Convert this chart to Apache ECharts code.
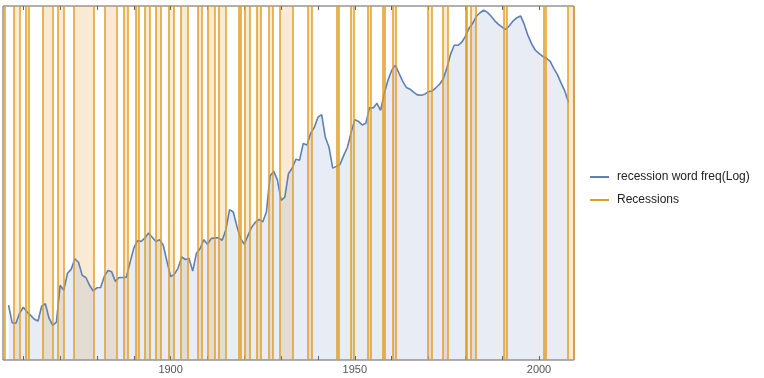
<!DOCTYPE html>
<html>
<head>
    <meta charset="utf-8">
    <title>recession word freq</title>
    <script src="https://cdn.jsdelivr.net/npm/echarts@6/dist/echarts.min.js"></script>
</head>
<body style="margin:0;background:#fff">
    <div id="main" style="width:764px;height:378px"></div>
    <script type="text/javascript">
        // word frequency (log, arbitrary units), one value per year from firstYear
        var firstYear = 1856;
        var freqLog = [
            15.5, 10.5, 10.4, 13.2, 14.9, 13.6, 12.6, 11.5, 11.0, 15.2,
            15.9, 11.8, 9.8, 10.7, 21.1, 19.7, 24.5, 25.6, 28.6, 27.6,
            23.9, 23.3, 21.1, 19.5, 20.4, 20.5, 23.6, 25.3, 24.9, 22.2,
            23.3, 23.3, 23.4, 27.6, 31.6, 33.7, 33.5, 34.4, 35.9, 34.7,
            33.5, 34.0, 32.4, 27.9, 23.6, 24.2, 25.9, 29.1, 28.4, 28.7,
            25.1, 30.1, 31.5, 34.0, 32.7, 34.3, 34.5, 34.5, 33.8, 36.8,
            42.5, 41.8, 37.8, 34.3, 32.7, 35.2, 37.5, 38.9, 39.7, 39.0,
            41.8, 52.0, 53.3, 50.8, 45.1, 46.0, 52.7, 54.2, 56.7, 56.4,
            61.2, 60.7, 64.0, 65.7, 68.6, 69.3, 62.9, 60.1, 54.2, 54.7,
            55.3, 57.8, 60.1, 64.3, 67.9, 67.4, 66.4, 66.9, 71.3, 71.2,
            72.5, 70.5, 75.3, 79.0, 81.8, 83.3, 81.0, 78.7, 77.0, 76.5,
            75.6, 74.9, 74.8, 75.1, 75.8, 76.0, 76.9, 77.9, 79.4, 82.5,
            86.4, 88.9, 88.9, 89.7, 91.4, 93.7, 95.1, 97.1, 98.1, 98.8,
            98.2, 97.1, 95.8, 94.8, 94.0, 93.4, 94.5, 95.8, 96.7, 97.2,
            94.8, 91.7, 89.3, 87.5, 86.6, 85.8, 85.2, 84.4, 82.4, 80.6,
            78.2, 76.0, 72.8
        ];
        // NBER business cycle peaks / troughs
        var recessionStart = ['1853-06', '1857-06', '1860-10', '1865-04', '1869-06', '1873-10', '1882-03',
            '1887-03', '1890-07', '1893-01', '1895-12', '1899-06', '1902-09', '1907-05', '1910-01',
            '1913-01', '1918-08', '1920-01', '1923-05', '1926-10', '1929-08', '1937-05', '1945-02',
            '1948-11', '1953-07', '1957-08', '1960-04', '1969-12', '1973-11', '1980-01', '1981-07',
            '1990-07', '2001-03', '2007-12'];
        var recessionEnd = ['1854-12', '1858-12', '1861-06', '1867-12', '1870-12', '1879-03', '1885-05',
            '1888-04', '1891-05', '1894-06', '1897-06', '1900-12', '1904-08', '1908-06', '1912-01',
            '1914-12', '1919-03', '1921-07', '1924-07', '1927-11', '1933-03', '1938-06', '1945-10',
            '1949-10', '1954-05', '1958-04', '1961-02', '1970-11', '1975-03', '1980-07', '1982-11',
            '1991-03', '2001-11', '2009-06'];
        var tickYears = [1860, 1870, 1880, 1890, 1900, 1910, 1920, 1930, 1940, 1950, 1960, 1970, 1980, 1990, 2000];
        var labelYears = [1900, 1950, 2000];

        var xMin = 1854.5, xMax = 2009.5;
        var blue = '#5e81b5', orange = '#e19c24';

        function toYear(s) {
            var p = s.split('-');
            return +p[0] + (p[1] - 1) / 12;
        }

        var lineData = [];
        for (var i = 0; i < freqLog.length; i++) {
            lineData.push([firstYear + i, freqLog[i]]);
        }
        var areas = [], edges = [];
        for (var j = 0; j < recessionStart.length; j++) {
            var a = toYear(recessionStart[j]), b = toYear(recessionEnd[j]);
            areas.push([{xAxis: Math.max(a, xMin)}, {xAxis: Math.min(b, xMax)}]);
            if (a >= xMin) edges.push({xAxis: a});
            if (b <= xMax) edges.push({xAxis: b});
        }

        var font = 'Liberation Sans, Arial, sans-serif';
        var myChart = echarts.init(document.getElementById('main'));
        myChart.setOption({
            animation: false,
            grid: {
                show: true, left: 3, right: 190, top: 6, bottom: 18,
                borderColor: '#606060', borderWidth: 1
            },
            legend: {
                orient: 'vertical', left: 585, top: 166,
                icon: 'rect',
                itemWidth: 19, itemHeight: 2, itemGap: 11,
                textStyle: {fontSize: 12, color: '#222', fontFamily: font, padding: [0, 0, 0, 3]},
                data: ['recession word freq(Log)', 'Recessions']
            },
            xAxis: [{
                type: 'value', position: 'bottom', min: xMin, max: xMax,
                axisLine: {show: false},
                splitLine: {show: false},
                axisTick: {show: true, inside: true, length: 4, customValues: tickYears,
                    lineStyle: {color: '#606060'}},
                axisLabel: {customValues: labelYears, color: '#555', fontSize: 11, margin: 4, fontFamily: font,
                    formatter: function (v) { return String(v); }}
            }, {
                type: 'value', position: 'top', min: xMin, max: xMax,
                axisLine: {show: false},
                splitLine: {show: false},
                axisTick: {show: true, inside: true, length: 4, customValues: tickYears,
                    lineStyle: {color: '#606060'}},
                axisLabel: {show: false}
            }],
            yAxis: {
                type: 'value', min: 0, max: 100,
                axisLine: {show: false}, axisTick: {show: false},
                axisLabel: {show: false}, splitLine: {show: false}
            },
            series: [{
                name: 'recession word freq(Log)',
                type: 'line', z: 2,
                data: lineData,
                symbol: 'none',
                color: blue,
                lineStyle: {color: blue, width: 1.6},
                areaStyle: {color: 'rgba(94,129,181,0.2)', origin: 'start'}
            }, {
                name: 'Recessions',
                type: 'line', z: 3,
                data: [],
                symbol: 'none',
                color: orange,
                lineStyle: {color: orange, width: 1.6},
                markArea: {
                    silent: true,
                    itemStyle: {color: 'rgba(225,156,36,0.2)'},
                    data: areas
                },
                markLine: {
                    silent: true,
                    symbol: ['none', 'none'],
                    label: {show: false},
                    lineStyle: {color: orange, width: 1.6, type: 'solid', opacity: 0.9},
                    data: edges
                }
            }]
        });
    </script>
</body>
</html>
